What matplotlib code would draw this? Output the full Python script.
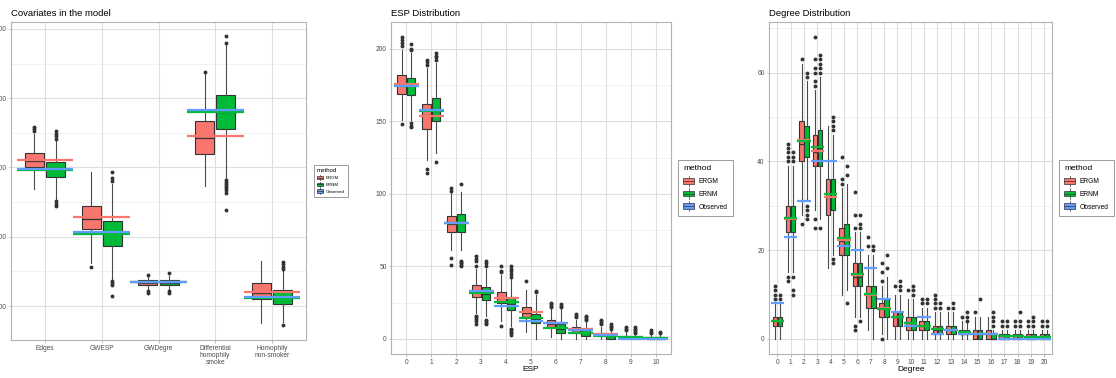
import numpy as np
import matplotlib
matplotlib.use("Agg")
import matplotlib.pyplot as plt
from matplotlib.patches import Patch, Rectangle
from matplotlib.lines import Line2D
from matplotlib.legend_handler import HandlerBase

plt.rcParams['font.family'] = ['Liberation Sans', 'DejaVu Sans']

ERGM_COL = '#F8766D'
ERNM_COL = '#00BA38'
OBS_COL = '#619CFF'
EDGE = '#333333'

# ---- covariates (model statistics) ----
cov_labels = ["Edges", "GWESP", "GWDegre", "Differential\nhomophily\nsmoke", "Homophily\nnon-smoker"]
cov_ergm_q1 = [500, 411, 330, 520, 310]
cov_ergm_med = [509, 425, 333, 542, 319]
cov_ergm_q3 = [521, 444, 337, 567, 333]
cov_ergm_lo = [469, 362, 325, 473, 275]
cov_ergm_hi = [548, 494, 343, 635, 365]
cov_ergm_out = [[552, 556, 558], [357], [345, 322, 319], [638], []]
cov_ernm_q1 = [486, 387, 330, 556, 303]
cov_ernm_med = [499, 407, 333, 580, 313]
cov_ernm_q3 = [508, 423, 337, 604, 323]
cov_ernm_lo = [455, 339, 325, 483, 277]
cov_ernm_hi = [540, 476, 343, 677, 350]
cov_ernm_out = [[541, 545, 548, 552, 451, 448, 444],
                [480, 485, 493, 336, 333, 330, 314],
                [347, 322, 319],
                [680, 690, 482, 479, 476, 473, 470, 467, 463, 438],
                [353, 356, 360, 363, 273]]
cov_ergm_mean = [511, 428, 334, 545, 321]
cov_ernm_mean = [496, 404, 334, 580, 312]
cov_obs = [498, 407, 334, 583, 313]

# ---- edgewise shared partners ----
esp_labels = [str(i) for i in range(11)]
esp_ergm_q1 = [169, 145, 74, 29, 25, 15, 8, 4, 2, 0, 0]
esp_ergm_med = [175, 154, 79, 32, 28, 18, 10, 6, 3, 1, 0]
esp_ergm_q3 = [182, 162, 85, 37, 32, 22, 13, 8, 4, 2, 1]
esp_ergm_lo = [151, 123, 61, 18, 12, 5, 1, 0, 0, 0, 0]
esp_ergm_hi = [199, 187, 101, 48, 44, 34, 21, 13, 8, 5, 3]
esp_ergm_out = [[202, 204, 206, 208, 148], [189, 191, 192, 117, 114], [102, 104, 56, 51],
                [50, 54, 55, 57, 16, 15, 14, 12, 10], [46, 47, 50, 9], [40],
                [22, 23, 24, 25], [15, 16, 17], [10, 11, 12, 13], [6, 7, 8], [4, 5, 6]]
esp_ernm_q1 = [168, 150, 74, 27, 20, 11, 4, 2, 0, 0, 0]
esp_ernm_med = [174, 157, 80, 31, 24, 14, 7, 4, 2, 1, 0]
esp_ernm_q3 = [180, 166, 86, 36, 29, 17, 10, 6, 3, 1, 1]
esp_ernm_lo = [151, 128, 61, 16, 9, 0, 0, 0, 0, 0, 0]
esp_ernm_hi = [197, 190, 101, 48, 42, 30, 21, 12, 6, 3, 3]
esp_ernm_out = [[199, 200, 203, 149, 147, 146], [192, 194, 195, 197, 122], [107, 54, 53, 52, 51, 50],
                [50, 52, 54, 13, 12, 11, 10], [43, 45, 47, 48, 50, 7, 6, 5, 4, 3], [32, 33],
                [22, 23, 24], [13, 14, 15, 16], [7, 8, 9, 10], [4, 5, 6, 7, 8], [4, 5]]
esp_ergm_mean = [175.5, 153.7, 80, 32.8, 27.9, 18.3, 10.7, 6.9, 3.4, 1.4, 0.8]
esp_ernm_mean = [174.5, 157.1, 80, 31.6, 25.2, 14.4, 7.6, 4.1, 2.3, 1.0, 0.6]
esp_obs = [174, 158, 80, 33, 23, 12, 11, 6, 3, 0, 0]

# ---- degree distribution ----
deg_labels = [str(i) for i in range(21)]
deg_ergm_q1 = [3, 24, 40, 39, 28, 19, 12, 7, 5, 3, 2, 2, 1, 1, 1, 0, 0, 0, 0, 0, 0]
deg_ergm_med = [4, 27, 44, 42, 32, 22, 14, 10, 7, 5, 3, 3, 2, 2, 1, 1, 1, 0, 0, 0, 0]
deg_ergm_q3 = [5, 30, 49, 46, 36, 25, 17, 12, 8, 6, 5, 4, 3, 3, 2, 2, 2, 1, 1, 1, 1]
deg_ergm_lo = [0, 15, 28, 29, 16, 10, 5, 2, 1, 0, 0, 0, 0, 0, 0, 0, 0, 0, 0, 0, 0]
deg_ergm_hi = [8, 39, 62, 56, 48, 34, 24, 19, 12, 10, 9, 7, 6, 6, 4, 5, 5, 2, 2, 2, 2]
deg_ergm_out = [[9, 10, 11, 12], [40, 41, 42, 43, 44, 14, 13], [63, 26],
                [57, 58, 60, 61, 63, 68, 27, 25], [], [35, 36, 41], [25, 28, 33, 3, 2],
                [21, 23], [13, 15, 17, 0], [12], [11], [8, 9], [7, 8, 9, 10], [7], [5],
                [6], [], [3, 4], [3, 4], [3, 4], [3, 4]]
deg_ernm_q1 = [3, 24, 41, 39, 29, 19, 12, 7, 5, 3, 2, 2, 1, 1, 1, 0, 0, 0, 0, 0, 0]
deg_ernm_med = [4, 27, 45, 43, 32, 23, 14, 10, 7, 5, 3, 3, 2, 2, 1, 1, 0, 0, 0, 0, 0]
deg_ernm_q3 = [5, 30, 48, 47, 36, 26, 17, 12, 9, 6, 5, 4, 3, 3, 2, 2, 1, 1, 1, 1, 1]
deg_ernm_lo = [0, 15, 31, 27, 19, 11, 5, 0, 0, 0, 0, 0, 0, 0, 0, 0, 0, 0, 0, 0, 0]
deg_ernm_hi = [8, 39, 58, 59, 46, 35, 24, 19, 14, 10, 9, 7, 6, 6, 4, 5, 2, 2, 2, 2, 2]
deg_ernm_out = [[9, 10], [40, 41, 42, 14, 11, 10], [59, 60, 30, 29, 28, 27],
                [60, 61, 62, 63, 64, 25], [47, 48, 49, 50, 18, 17], [37, 39, 8],
                [25, 26, 28, 4], [20, 21], [16, 19], [11, 12, 13], [10, 11, 12], [8, 9],
                [7, 8], [7, 8], [4, 5, 6], [9], [3, 4, 5, 6], [3, 4], [3, 4, 6], [3, 4, 5], [3, 4]]
deg_ergm_mean = [4, 27, 44.8, 42.4, 32, 22.3, 14.5, 10, 7, 5, 3.5, 3, 2.2, 2, 1.5, 1, 1, 0.7, 0.6, 0.5, 0.5]
deg_ernm_mean = [4.1, 27.2, 44.6, 43.3, 32.6, 22.7, 14.6, 10.1, 6.8, 5, 3.6, 3, 2.3, 2, 1.5, 1, 1, 0.7, 0.6, 0.5, 0.5]
deg_obs = [8, 23, 31, 40, 40, 21, 20, 16, 9, 6, 3, 5, 1, 2, 1, 1, 1, 0, 0, 0, 0]

methods = ["ERGM", "ERNM", "Observed"]


def box_stats(q1, med, q3, lo, hi, out):
    return [dict(q1=a, med=m, q3=b, whislo=l, whishi=h, fliers=f)
            for a, m, b, l, h, f in zip(q1, med, q3, lo, hi, out)]


class BoxKey(HandlerBase):
    # ggplot-like boxplot key: whisker, filled box, median line
    def create_artists(self, legend, orig, xd, yd, w, h, fontsize, trans):
        x0, y0 = -xd, -yd
        cx = x0 + w / 2
        whisk = Line2D([cx, cx], [y0 - 0.2 * h, y0 + 1.2 * h], color=EDGE, lw=0.5, transform=trans)
        box = Rectangle((x0, y0 + 0.1 * h), w, 0.8 * h, facecolor=orig.get_facecolor(),
                        edgecolor=EDGE, lw=0.5, transform=trans)
        med = Line2D([x0, x0 + w], [y0 + h / 2] * 2, color=EDGE, lw=0.5, transform=trans)
        return [whisk, box, med]


def draw_panel(ax, labels, ergm, ernm, means, ylim, major, minor, title, xlabel=None):
    x = np.arange(len(labels))
    for stats, col, off in [(ergm, ERGM_COL, -0.1875), (ernm, ERNM_COL, 0.1875)]:
        ax.bxp(stats, positions=x + off, widths=0.3375, patch_artist=True, showcaps=False,
               manage_ticks=False,
               boxprops=dict(facecolor=col, edgecolor=EDGE, linewidth=0.8),
               medianprops=dict(color=EDGE, linewidth=0.9),
               whiskerprops=dict(color='#4a4a4a', linewidth=0.8),
               flierprops=dict(marker='o', markerfacecolor=EDGE, markeredgecolor='none',
                               markersize=2.8))
    for vals, col in zip(means, [ERGM_COL, ERNM_COL, OBS_COL]):
        ax.hlines(vals, x - 0.5, x + 0.5, colors=col, lw=1.6, zorder=4)

    ax.set_xlim(-0.6, len(labels) - 0.4)
    ax.set_ylim(*ylim)
    ax.set_xticks(x)
    ax.set_xticklabels(labels)
    ax.set_yticks(major)
    ax.set_yticks(minor, minor=True)
    ax.grid(which='major', color='#DEDEDE', lw=0.8)
    ax.grid(which='minor', axis='y', color='#EBEBEB', lw=0.5)
    ax.set_axisbelow(True)
    for s in ax.spines.values():
        s.set_color('#B3B3B3')
        s.set_linewidth(0.8)
    ax.tick_params(which='major', length=1.8, width=0.6, color='#B3B3B3',
                   labelsize=4.8, labelcolor='#4D4D4D', pad=1.5)
    ax.tick_params(which='minor', length=0)
    ax.set_title(title, loc='left', fontsize=6.8, pad=4.0)
    if xlabel:
        ax.set_xlabel(xlabel, fontsize=6.0, labelpad=0.5)


def add_legend(ax, fig, x, y, fs, tfs, hl, hh, ls, bp):
    handles = [Patch(facecolor=c, label=m) for c, m in zip([ERGM_COL, ERNM_COL, OBS_COL], methods)]
    leg = ax.legend(handles=handles, title="method", loc='center left',
                    bbox_to_anchor=(x, y), bbox_transform=fig.transFigure, borderaxespad=0,
                    fontsize=fs, title_fontsize=tfs, handlelength=hl, handleheight=hh,
                    labelspacing=ls, handletextpad=0.7, borderpad=bp, alignment='left',
                    fancybox=False, framealpha=1, edgecolor='#8C8C8C',
                    handler_map={Patch: BoxKey()})
    leg.get_frame().set_linewidth(0.6)
    return leg


fig = plt.figure(figsize=(11.16, 3.78), dpi=100)
ax1 = fig.add_axes([11 / 1116, 38 / 378, 295 / 1116, 318 / 378])
ax2 = fig.add_axes([391.3 / 1116, 24 / 378, 279.4 / 1116, 332 / 378])
ax3 = fig.add_axes([769.3 / 1116, 24 / 378, 283 / 1116, 332 / 378])

draw_panel(ax1, cov_labels,
           box_stats(cov_ergm_q1, cov_ergm_med, cov_ergm_q3, cov_ergm_lo, cov_ergm_hi, cov_ergm_out),
           box_stats(cov_ernm_q1, cov_ernm_med, cov_ernm_q3, cov_ernm_lo, cov_ernm_hi, cov_ernm_out),
           [cov_ergm_mean, cov_ernm_mean, cov_obs],
           (251, 710), [300, 400, 500, 600, 700], [350, 450, 550, 650],
           "Covariates in the model")
for lbl in ax1.get_xticklabels():
    lbl.set_linespacing(1.0)

draw_panel(ax2, esp_labels,
           box_stats(esp_ergm_q1, esp_ergm_med, esp_ergm_q3, esp_ergm_lo, esp_ergm_hi, esp_ergm_out),
           box_stats(esp_ernm_q1, esp_ernm_med, esp_ernm_q3, esp_ernm_lo, esp_ernm_hi, esp_ernm_out),
           [esp_ergm_mean, esp_ernm_mean, esp_obs],
           (-10.4, 218.4), [0, 50, 100, 150, 200], [25, 75, 125, 175],
           "ESP Distribution", "ESP")

draw_panel(ax3, deg_labels,
           box_stats(deg_ergm_q1, deg_ergm_med, deg_ergm_q3, deg_ergm_lo, deg_ergm_hi, deg_ergm_out),
           box_stats(deg_ernm_q1, deg_ernm_med, deg_ernm_q3, deg_ernm_lo, deg_ernm_hi, deg_ernm_out),
           [deg_ergm_mean, deg_ernm_mean, deg_obs],
           (-3.4, 71.4), [0, 20, 40, 60], [10, 30, 50, 70],
           "Degree Distribution", "Degree")

add_legend(ax1, fig, 313.7 / 1116, 1 - 181 / 378, 3.2, 4.4, 1.3, 1.0, 0.5, 0.7)
add_legend(ax2, fig, 678.3 / 1116, 1 - 187.8 / 378, 4.8, 6.0, 1.6, 1.3, 0.75, 0.75)
add_legend(ax3, fig, 1059.3 / 1116, 1 - 187.8 / 378, 4.8, 6.0, 1.6, 1.3, 0.75, 0.75)

fig.savefig("out.png", dpi=100)
